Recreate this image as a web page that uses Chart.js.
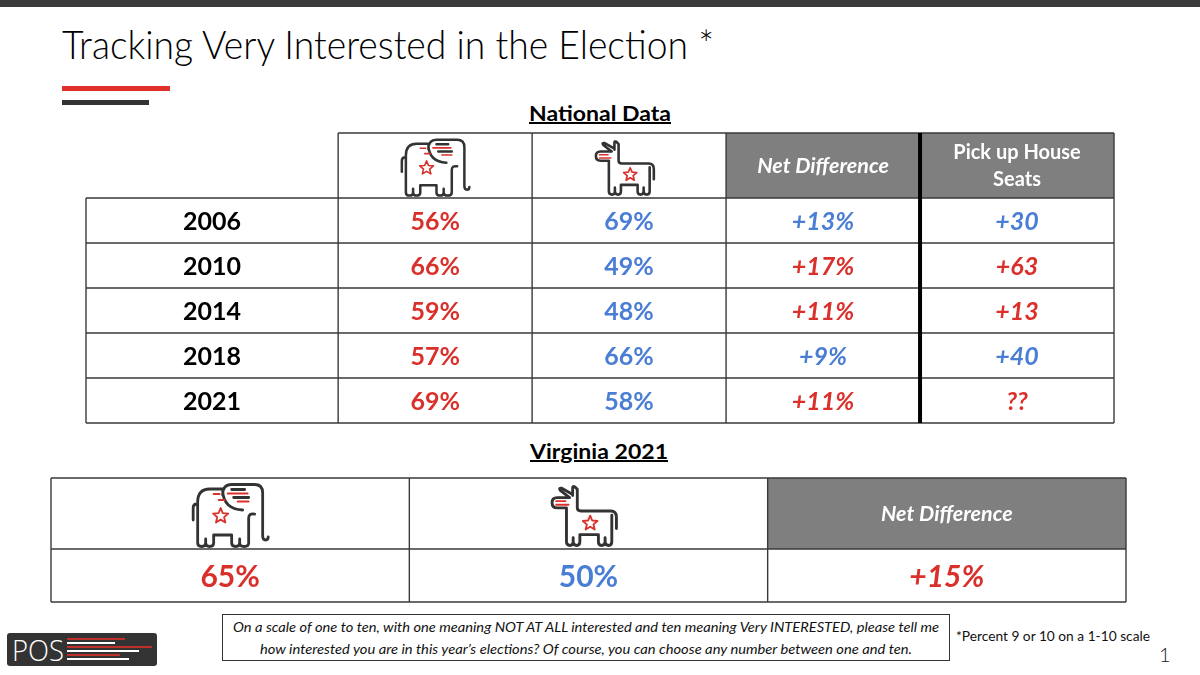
<!DOCTYPE html>
<html><head><meta charset="utf-8">
<script src="https://cdn.jsdelivr.net/npm/chart.js@4.4.1/dist/chart.umd.min.js"></script>
<style>
html,body{margin:0;padding:0;background:#fff;}
body{width:1200px;height:675px;position:relative;overflow:hidden;font-family:Lato,'Open Sans','DejaVu Sans',sans-serif;}
.a{position:absolute;white-space:nowrap;line-height:1;transform-origin:0 0;}
canvas{position:absolute;}
</style></head><body>
<div class="a" style="left:0;top:0;width:1200px;height:7px;background:#3a3a3a"></div>
<div class="a" data-w="652" style="left:62px;top:25px;font-size:39px;font-weight:300;color:#000">Tracking Very Interested in the Election *</div>
<div class="a" style="left:62px;top:86px;width:108px;height:5px;background:#e0302b"></div>
<div class="a" style="left:62px;top:100px;width:87px;height:5px;background:#333"></div>
<div class="a" data-w="142" data-cx="600" style="top:103px;font-size:20px;font-weight:700;text-decoration:underline;color:#000">National Data</div>
<div class="a" data-w="138" data-cx="599" style="top:441px;font-size:20px;font-weight:700;text-decoration:underline;color:#000">Virginia 2021</div>

<canvas id="national" width="1040" height="302" style="left:80px;top:127px;width:1040px;height:302px"></canvas>
<canvas id="virginia" width="1087" height="136" style="left:45px;top:472px;width:1087px;height:136px"></canvas>

<div class="a" style="left:7px;top:633px;width:150px;height:33px;background:#333;border-radius:3px"></div>
<div class="a" data-w="52" style="left:12px;top:635px;font-size:29px;font-weight:300;color:#fff;font-family:'Open Sans',Lato,sans-serif">POS</div>
<div class="a" style="left:67px;top:638px;width:58px;height:2px;background:#c0302b"></div>
<div class="a" style="left:67px;top:642px;width:48px;height:2px;background:#fff"></div>
<div class="a" style="left:67px;top:646px;width:85px;height:2px;background:#c0302b"></div>
<div class="a" style="left:67px;top:650px;width:72px;height:2px;background:#fff"></div>
<div class="a" style="left:67px;top:654px;width:53px;height:2px;background:#c0302b"></div>
<div class="a" style="left:67px;top:658px;width:62px;height:2px;background:#fff"></div>

<div class="a" style="left:222px;top:614px;width:728px;height:47px;border:1px solid #333;box-sizing:border-box"></div>
<div class="a" data-w="706" data-cx="586" style="top:620px;font-size:14px;font-style:italic;color:#111">On a scale of one to ten, with one meaning NOT AT ALL interested and ten meaning Very INTERESTED, please tell me</div>
<div class="a" data-w="652" data-cx="586" style="top:642px;font-size:14px;font-style:italic;color:#111">how interested you are in this year’s elections? Of course, you can choose any number between one and ten.</div>
<div class="a" data-w="194" style="left:956px;top:629px;font-size:14px;color:#111">*Percent 9 or 10 on a 1-10 scale</div>
<div class="a" style="left:1159px;top:644px;font-size:20px;font-weight:300;color:#222">1</div>

<script>
// ---------- DATA ----------
const years = ['2006', '2010', '2014', '2018', '2021'];
const repVeryInterested = [56, 66, 59, 57, 69];
const demVeryInterested = [69, 49, 48, 66, 58];
const netDifference = [13, 17, 11, 9, 11];
const houseSeatsPickup = ['+30', '+63', '+13', '+40', '??'];
const houseSeatsParty = ['D', 'R', 'R', 'D', 'R'];
const nationalHeaders = ['Net Difference', 'Pick up House|Seats'];

const vaRepVeryInterested = [65];
const vaDemVeryInterested = [50];
const vaNetDifference = [15];
const virginiaHeaders = ['Net Difference'];

// ---------- STYLE ----------
const RED = '#d9302b', BLUE = '#4a7dd4', GRAY = '#7f7f7f', LINE = '#3a3a3a';
const partyColor = p => p === 'R' ? RED : BLUE;
const leader = (r, d) => r > d ? 'R' : 'D';

// fit static texts
document.querySelectorAll('[data-w]').forEach(el => {
  const W = el.getBoundingClientRect().width, w = +el.dataset.w;
  el.style.transform = 'scaleX(' + (w / W) + ')';
  if (el.dataset.cx) el.style.left = (+el.dataset.cx - w / 2) + 'px';
});

// ---------- ICONS ----------
function drawStar(ctx, cx, cy, r) {
  ctx.strokeStyle = RED; ctx.lineWidth = 1.8;
  ctx.beginPath();
  for (let i = 0; i < 10; i++) {
    const rr = i % 2 ? r * 0.45 : r;
    const a = -Math.PI / 2 + i * Math.PI / 5;
    const x = cx + rr * Math.cos(a), y = cy + rr * Math.sin(a);
    if (i) ctx.lineTo(x, y); else ctx.moveTo(x, y);
  }
  ctx.closePath(); ctx.stroke();
}
function drawElephant(ctx, cx, bottom, s) {
  ctx.save();
  ctx.translate(cx - 77 * s / 2, bottom - 64 * s);
  ctx.scale(s, s);
  ctx.lineCap = 'round'; ctx.lineJoin = 'round';
  ctx.strokeStyle = '#333'; ctx.lineWidth = 2.8;
  ctx.beginPath();
  ctx.moveTo(1.5, 37); ctx.lineTo(1.5, 25); ctx.quadraticCurveTo(1.5, 21, 5.5, 21);
  ctx.moveTo(6, 60); ctx.lineTo(6, 19); ctx.quadraticCurveTo(6, 6, 18, 6); ctx.lineTo(31, 6);
  ctx.moveTo(31, 12); ctx.quadraticCurveTo(31, 1.5, 40, 1.5); ctx.lineTo(63, 1.5);
  ctx.quadraticCurveTo(71, 1.5, 71, 10); ctx.lineTo(71, 53);
  ctx.quadraticCurveTo(71, 57, 74, 57); ctx.quadraticCurveTo(76.5, 57, 76.5, 54);
  ctx.moveTo(31, 8); ctx.quadraticCurveTo(32, 26, 51, 27);
  ctx.moveTo(57, 60); ctx.lineTo(57, 35); ctx.quadraticCurveTo(57, 30, 63, 31);
  ctx.moveTo(6, 60); ctx.quadraticCurveTo(6, 63.5, 10, 63.5); ctx.quadraticCurveTo(14, 63.5, 14, 60); ctx.lineTo(14, 56);
  ctx.moveTo(14, 60); ctx.quadraticCurveTo(14, 63.5, 18, 63.5); ctx.quadraticCurveTo(22, 63.5, 22, 60);
  ctx.lineTo(22, 52); ctx.lineTo(40, 52); ctx.lineTo(40, 60);
  ctx.quadraticCurveTo(40, 63.5, 44, 63.5); ctx.quadraticCurveTo(48, 63.5, 48, 60); ctx.lineTo(48, 56);
  ctx.moveTo(48, 60); ctx.quadraticCurveTo(48, 63.5, 52.5, 63.5); ctx.quadraticCurveTo(57, 63.5, 57, 60);
  ctx.moveTo(40, 6.5); ctx.lineTo(53, 6.5);
  ctx.moveTo(42, 14.5); ctx.lineTo(57, 14.5);
  ctx.stroke();
  ctx.strokeStyle = RED; ctx.lineWidth = 1.8;
  ctx.beginPath();
  ctx.moveTo(36, 10.5); ctx.lineTo(56, 10.5);
  ctx.moveTo(46, 18.5); ctx.lineTo(57, 18.5);
  ctx.moveTo(22, 11); ctx.lineTo(28, 11);
  ctx.moveTo(27, 17); ctx.lineTo(33, 17);
  ctx.stroke();
  drawStar(ctx, 29, 33, 8);
  ctx.restore();
}
function drawDonkey(ctx, cx, bottom, s) {
  ctx.save();
  ctx.translate(cx - 65 * s / 2, bottom - 60 * s);
  ctx.scale(s, s);
  ctx.lineCap = 'round'; ctx.lineJoin = 'round';
  ctx.strokeStyle = '#333'; ctx.lineWidth = 2.8;
  ctx.beginPath();
  ctx.moveTo(18, 12); ctx.lineTo(6, 12); ctx.quadraticCurveTo(1, 12, 1, 17); ctx.quadraticCurveTo(1, 22, 6, 22); ctx.lineTo(15, 22);
  ctx.moveTo(18, 12); ctx.lineTo(9, 5); ctx.quadraticCurveTo(7, 2.5, 10.5, 3); ctx.lineTo(21, 9);
  ctx.moveTo(21, 10); ctx.lineTo(21, 2.5); ctx.quadraticCurveTo(21, 0.5, 23, 1.5); ctx.lineTo(25.5, 4); ctx.lineTo(25.5, 22);
  ctx.quadraticCurveTo(25.5, 25, 29, 25); ctx.lineTo(58, 25); ctx.quadraticCurveTo(63.5, 25, 63.5, 31); ctx.lineTo(63.5, 42);
  ctx.moveTo(59, 29); ctx.lineTo(59, 55);
  ctx.moveTo(15, 22); ctx.lineTo(15, 55);
  ctx.quadraticCurveTo(15, 58.5, 18.5, 58.5); ctx.quadraticCurveTo(21.5, 58.5, 21.5, 55); ctx.lineTo(21.5, 51);
  ctx.moveTo(21.5, 55); ctx.quadraticCurveTo(21.5, 58.5, 25, 58.5); ctx.quadraticCurveTo(28, 58.5, 28, 55);
  ctx.lineTo(28, 48); ctx.lineTo(46, 48); ctx.lineTo(46, 55);
  ctx.quadraticCurveTo(46, 58.5, 49, 58.5); ctx.quadraticCurveTo(52.5, 58.5, 52.5, 55); ctx.lineTo(52.5, 51);
  ctx.moveTo(52.5, 55); ctx.quadraticCurveTo(52.5, 58.5, 56, 58.5); ctx.quadraticCurveTo(59, 58.5, 59, 55);
  ctx.stroke();
  ctx.strokeStyle = RED; ctx.lineWidth = 1.8;
  ctx.beginPath();
  ctx.moveTo(5, 15.5); ctx.lineTo(14, 15.5);
  ctx.moveTo(5, 19); ctx.lineTo(17, 19);
  ctx.stroke();
  drawStar(ctx, 38, 37, 7.5);
  ctx.restore();
}

// ---------- TABLE PLUGIN (per chart) ----------
function makeTablePlugin(t) {
  return {
    id: 'tableGrid',
    beforeDatasetsDraw(chart) {
      const ctx = chart.ctx;
      const X = v => chart.scales.x.getPixelForValue(v), Y = v => chart.scales.y.getPixelForValue(v);
      const C = t.cols, R = t.rows;
      ctx.save();
      t.header.forEach(h => {
        if (h.fill) { ctx.fillStyle = GRAY; ctx.fillRect(X(C[h.col]), Y(R[0]), X(C[h.col + 1]) - X(C[h.col]), Y(R[1]) - Y(R[0])); }
      });
      ctx.strokeStyle = LINE; ctx.lineWidth = 1.4;
      ctx.beginPath();
      const first = t.headerStartCol;
      ctx.moveTo(X(C[first]), Y(R[0])); ctx.lineTo(X(C[C.length - 1]), Y(R[0]));
      for (let r = 1; r < R.length; r++) { ctx.moveTo(X(C[0]), Y(R[r])); ctx.lineTo(X(C[C.length - 1]), Y(R[r])); }
      for (let c = 0; c < C.length; c++) {
        if (c === t.thickCol) continue;
        const top = c < first ? Y(R[1]) : Y(R[0]);
        ctx.moveTo(X(C[c]), top); ctx.lineTo(X(C[c]), Y(R[R.length - 1]));
      }
      ctx.stroke();
      if (t.thickCol >= 0) {
        ctx.strokeStyle = '#000'; ctx.lineWidth = 4;
        ctx.beginPath(); ctx.moveTo(X(C[t.thickCol]), Y(R[0])); ctx.lineTo(X(C[t.thickCol]), Y(R[R.length - 1])); ctx.stroke();
      }
      t.header.forEach(h => {
        const cx = (X(C[h.col]) + X(C[h.col + 1])) / 2, cy = (Y(R[0]) + Y(R[1])) / 2;
        if (h.icon === 'elephant') drawElephant(ctx, cx, Y(R[1]) - 2, t.iconScale);
        else if (h.icon === 'donkey') drawDonkey(ctx, cx - 4, Y(R[1]) - 2, t.iconScale * 1.03);
        else if (h.text) {
          const lines = h.text.split('|');
          ctx.fillStyle = '#fff'; ctx.textAlign = 'center'; ctx.textBaseline = 'alphabetic';
          ctx.font = (h.italic ? 'italic ' : '') + 'bold ' + h.size + 'px Lato, "Open Sans", sans-serif';
          const lh = 27;
          lines.forEach((ln, i) => {
            const y = cy + (i - (lines.length - 1) / 2) * lh + h.size * 0.36;
            ctx.fillText(ln, cx, y);
          });
        }
      });
      ctx.restore();
    },
    afterDatasetsDraw(chart) {
      const ctx = chart.ctx;
      ctx.save();
      ctx.textAlign = 'center'; ctx.textBaseline = 'alphabetic';
      t.cells.forEach((cell, di) => {
        const meta = chart.getDatasetMeta(di);
        ctx.font = (cell.italic ? 'italic ' : '') + 'bold ' + cell.size + 'px Lato, "Open Sans", sans-serif';
        meta.data.forEach((pt, i) => {
          ctx.fillStyle = cell.colors[i];
          ctx.fillText(cell.texts[i], pt.x, pt.y + cell.size * 0.36 + 0.5);
        });
      });
      ctx.restore();
    }
  };
}

function centers(edges) { return edges.slice(0, -1).map((e, i) => (e + edges[i + 1]) / 2); }
function baseOptions(cols, rows) {
  return {
    responsive: false, animation: false, events: [],
    layout: { padding: 6 },
    elements: { point: { radius: 0, hoverRadius: 0 } },
    plugins: { legend: { display: false }, tooltip: { enabled: false } },
    scales: {
      x: { type: 'linear', display: false, min: cols[0], max: cols[cols.length - 1] },
      y: { type: 'linear', display: false, min: rows[0], max: rows[rows.length - 1], reverse: true }
    }
  };
}

// ---------- NATIONAL TABLE ----------
const natCols = [0, 1.3, 2.3, 3.3, 4.3, 5.3];
const natRows = [0, 1.444, 2.444, 3.444, 4.444, 5.444, 6.444];
const natCx = centers(natCols), natCy = centers(natRows).slice(1);
const netLeaders = repVeryInterested.map((r, i) => leader(r, demVeryInterested[i]));
const natCells = [
  { texts: years, colors: years.map(() => '#000'), size: 25, italic: false },
  { texts: repVeryInterested.map(v => v + '%'), colors: repVeryInterested.map(() => RED), size: 25, italic: false },
  { texts: demVeryInterested.map(v => v + '%'), colors: demVeryInterested.map(() => BLUE), size: 25, italic: false },
  { texts: netDifference.map(v => '+' + v + '%'), colors: netLeaders.map(partyColor), size: 25, italic: true },
  { texts: houseSeatsPickup, colors: houseSeatsParty.map(partyColor), size: 25, italic: true }
];
new Chart(document.getElementById('national'), {
  type: 'scatter',
  data: {
    datasets: natCells.map((cell, c) => ({
      label: 'col' + c, showLine: false,
      data: cell.texts.map((_, i) => ({ x: natCx[c], y: natCy[i] }))
    }))
  },
  options: baseOptions(natCols, natRows),
  plugins: [makeTablePlugin({
    cols: natCols, rows: natRows, headerStartCol: 1, thickCol: 4, iconScale: 0.9, cells: natCells,
    header: [
      { col: 1, icon: 'elephant' }, { col: 2, icon: 'donkey' },
      { col: 3, fill: true, text: nationalHeaders[0], italic: true, size: 21.5 },
      { col: 4, fill: true, text: nationalHeaders[1], italic: false, size: 20 }
    ]
  })]
});

// ---------- VIRGINIA TABLE ----------
const vaCols = [0, 1, 2, 3];
const vaRows = [0, 1.34, 2.34];
const vaCx = centers(vaCols), vaCy = centers(vaRows).slice(1);
const vaLeader = leader(vaRepVeryInterested[0], vaDemVeryInterested[0]);
const vaCells = [
  { texts: vaRepVeryInterested.map(v => v + '%'), colors: [RED], size: 30, italic: false },
  { texts: vaDemVeryInterested.map(v => v + '%'), colors: [BLUE], size: 30, italic: false },
  { texts: vaNetDifference.map(v => '+' + v + '%'), colors: [partyColor(vaLeader)], size: 30, italic: true }
];
new Chart(document.getElementById('virginia'), {
  type: 'scatter',
  data: {
    datasets: vaCells.map((cell, c) => ({
      label: 'va' + c, showLine: false,
      data: cell.texts.map((_, i) => ({ x: vaCx[c], y: vaCy[i] }))
    }))
  },
  options: baseOptions(vaCols, vaRows),
  plugins: [makeTablePlugin({
    cols: vaCols, rows: vaRows, headerStartCol: 0, thickCol: -1, iconScale: 1.0, cells: vaCells,
    header: [
      { col: 0, icon: 'elephant' }, { col: 1, icon: 'donkey' },
      { col: 2, fill: true, text: virginiaHeaders[0], italic: true, size: 21.5 }
    ]
  })]
});
</script>
</body></html>
